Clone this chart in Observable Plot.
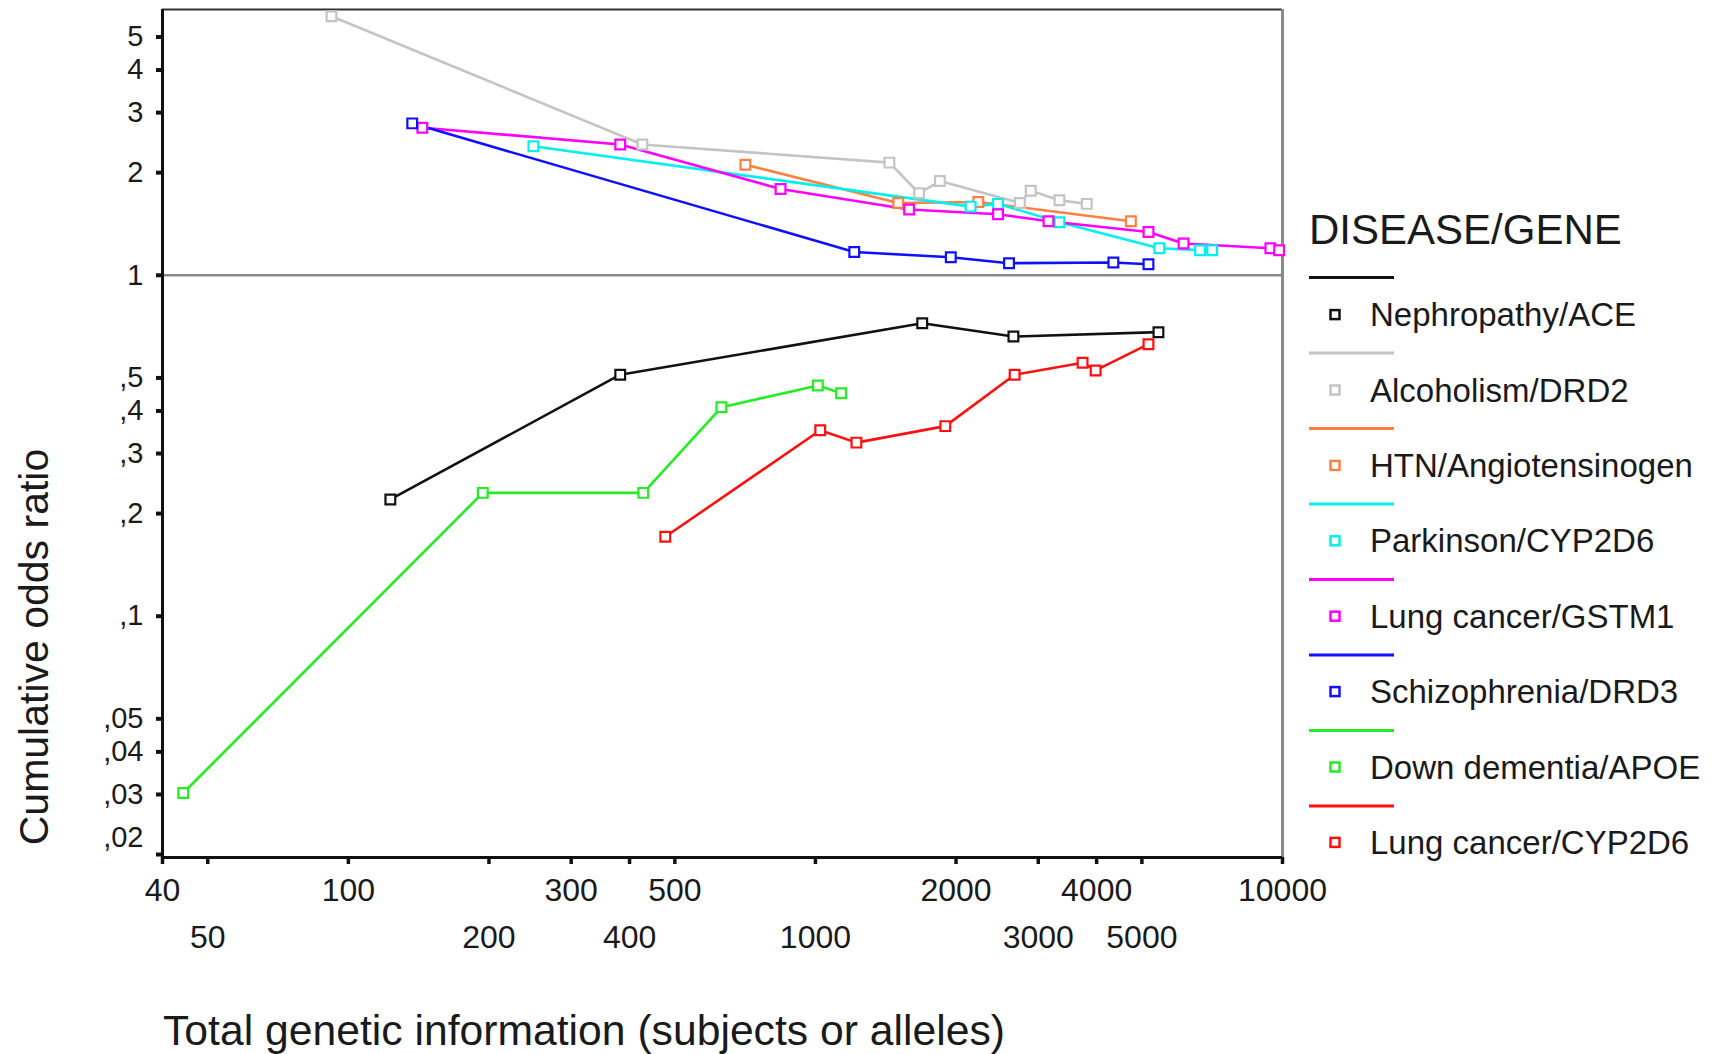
<!DOCTYPE html>
<html><head><meta charset="utf-8">
<script src="https://cdn.jsdelivr.net/npm/d3@7"></script>
<script src="https://cdn.jsdelivr.net/npm/@observablehq/plot@0.6"></script>
<style>
html,body{margin:0;padding:0;background:#fff;}
#chart{width:1719px;height:1054px;}
</style></head><body><div id="chart"></div>
<script>
// ---- data ----
const seriesNames = ["Nephropathy/ACE","Alcoholism/DRD2","HTN/Angiotensinogen","Parkinson/CYP2D6","Lung cancer/GSTM1","Schizophrenia/DRD3","Down dementia/APOE","Lung cancer/CYP2D6"];
const seriesColors = ["#111111","#c4c4c4","#ff8040","#00f0f0","#ff00ff","#1010ff","#22ee22","#ff1010"];

const nephropathyX = [123, 382, 1693, 2654, 5425];
const nephropathyY = [0.220, 0.511, 0.723, 0.661, 0.681];
const alcoholismX = [92, 426, 1440, 1667, 1847, 2740, 2890, 3330, 3810];
const alcoholismY = [5.75, 2.42, 2.14, 1.74, 1.89, 1.63, 1.77, 1.66, 1.62];
const htnX = [708, 1504, 2232, 4736];
const htnY = [2.11, 1.63, 1.64, 1.44];
const parkinsonX = [249, 2149, 2460, 3330, 5450, 6660, 7070];
const parkinsonY = [2.39, 1.59, 1.62, 1.43, 1.20, 1.185, 1.185];
const lungGstm1X = [144, 382, 842, 1587, 2460, 3155, 5165, 6140, 9420, 9835];
const lungGstm1Y = [2.71, 2.42, 1.79, 1.56, 1.51, 1.44, 1.34, 1.24, 1.20, 1.185];
const schizoX = [137, 1211, 1949, 2597, 4344, 5165];
const schizoY = [2.79, 1.17, 1.13, 1.085, 1.09, 1.077];
const downX = [44.3, 194, 428, 629, 1012, 1135];
const downY = [0.0303, 0.230, 0.230, 0.410, 0.475, 0.451];
const lungCypX = [477, 1024, 1224, 1897, 2670, 3732, 3980, 5165];
const lungCypY = [0.171, 0.351, 0.323, 0.361, 0.511, 0.554, 0.526, 0.628];

const xDomain = [40, 10000];
const yDomain = [0.0196, 6.02];
const xTickValues = [40, 50, 100, 200, 300, 400, 500, 1000, 2000, 3000, 4000, 5000, 10000];
const xLabelsRow1 = [40, 100, 300, 500, 2000, 4000, 10000];
const xLabelsRow2 = [50, 200, 400, 1000, 3000, 5000];
const yTickValues = [0.02, 0.03, 0.04, 0.05, 0.1, 0.2, 0.3, 0.4, 0.5, 1, 2, 3, 4, 5];
const yLabelsMain = [0.03, 0.04, 0.05, 0.1, 0.2, 0.3, 0.4, 0.5, 1, 2, 3, 4, 5];
const yLabelsBottom = [0.02];
const xTitle = "Total genetic information (subjects or alleles)";
const yTitle = "Cumulative odds ratio";
const legendTitle = "DISEASE/GENE";

// ---- table ----
const seriesX = [nephropathyX, alcoholismX, htnX, parkinsonX, lungGstm1X, schizoX, downX, lungCypX];
const seriesY = [nephropathyY, alcoholismY, htnY, parkinsonY, lungGstm1Y, schizoY, downY, lungCypY];
const rows = [];
seriesNames.forEach((name, i) => {
  seriesX[i].forEach((x, j) => rows.push({series: name, x, y: seriesY[i][j]}));
});

const FONT = "Liberation Sans, Arial, Helvetica, sans-serif";
const yFmt = d => d >= 1 ? String(d) : String(d).replace(/^0\./, ",");
const xFmt = d => String(d);
const TXT = "#1a1a1a";

const chart = Plot.plot({
  width: 1719, height: 1054,
  marginLeft: 162, marginRight: 437, marginTop: 9, marginBottom: 197,
  style: {fontFamily: FONT, background: "white", overflow: "visible"},
  x: {type: "log", domain: xDomain, label: null},
  y: {type: "log", domain: yDomain, label: null},
  color: {domain: seriesNames, range: seriesColors},
  marks: [
    Plot.ruleY([1], {stroke: "#8a8a8a", strokeWidth: 2.5}),
    Plot.ruleY([yDomain[1]], {stroke: "#333", strokeWidth: 2}),
    Plot.ruleX([xDomain[1]], {stroke: "#8a8a8a", strokeWidth: 3}),
    Plot.line(rows, {x: "x", y: "y", z: "series", stroke: "series", strokeWidth: 2.6}),
    Plot.dot(rows, {x: "x", y: "y", symbol: "square", r: 5.5, stroke: "series", fill: "white", strokeWidth: 2.2}),
    Plot.ruleX([xDomain[0]], {stroke: "#111", strokeWidth: 3}),
    Plot.ruleY([yDomain[0]], {stroke: "#111", strokeWidth: 3}),
    Plot.axisX({ticks: xTickValues, tickSize: 7, strokeWidth: 3.5, tickFormat: () => "", label: null, stroke: "#111"}),
    Plot.axisY({ticks: yTickValues, tickSize: 6, strokeWidth: 4, tickFormat: () => "", label: null, stroke: "#111"}),
    // tick labels as text marks positioned by the scales
    Plot.text(xLabelsRow1, {x: d => d, frameAnchor: "bottom", lineAnchor: "top", dy: 21, text: xFmt, fontSize: 32, fill: TXT, textAnchor: "middle"}),
    Plot.text(xLabelsRow2, {x: d => d, frameAnchor: "bottom", lineAnchor: "top", dy: 68, text: xFmt, fontSize: 32, fill: TXT, textAnchor: "middle"}),
    Plot.text(yLabelsMain, {y: d => d, frameAnchor: "left", dx: -19, text: yFmt, fontSize: 29, fill: TXT, textAnchor: "end"}),
    Plot.text(yLabelsBottom, {y: d => d, frameAnchor: "left", dx: -19, dy: -17, text: yFmt, fontSize: 29, fill: TXT, textAnchor: "end"})
  ]
});

const svg = d3.select(chart);

// axis titles
svg.append("text")
  .attr("transform", "translate(48,647) rotate(-90)")
  .attr("text-anchor", "middle")
  .attr("font-family", FONT).attr("font-size", 41).attr("fill", TXT)
  .text(yTitle);
svg.append("text")
  .attr("x", 163).attr("y", 1045)
  .attr("text-anchor", "start")
  .attr("font-family", FONT).attr("font-size", 42).attr("fill", TXT)
  .attr("textLength", 842).attr("lengthAdjust", "spacingAndGlyphs")
  .text(xTitle);

// legend
const lg = svg.append("g").attr("font-family", FONT).attr("fill", TXT).attr("text-anchor", "start");
lg.append("text").attr("x", 1309).attr("y", 244).attr("font-size", 42).attr("text-anchor", "start").text(legendTitle);
seriesNames.forEach((name, i) => {
  const yl = 277.4 + i * 75.5;
  const yt = 314.6 + i * 75.4;
  lg.append("line").attr("x1", 1309).attr("x2", 1394).attr("y1", yl).attr("y2", yl)
    .attr("stroke", seriesColors[i]).attr("stroke-width", 3);
  lg.append("rect").attr("x", 1335 - 4.5).attr("y", yt - 4.5).attr("width", 9).attr("height", 9)
    .attr("fill", "white").attr("stroke", seriesColors[i]).attr("stroke-width", 2.5);
  lg.append("text").attr("x", 1370).attr("y", yt).attr("dy", "0.35em").attr("font-size", 33)
    .attr("text-anchor", "start").text(name);
});

document.getElementById("chart").appendChild(chart);
</script>
</body></html>
